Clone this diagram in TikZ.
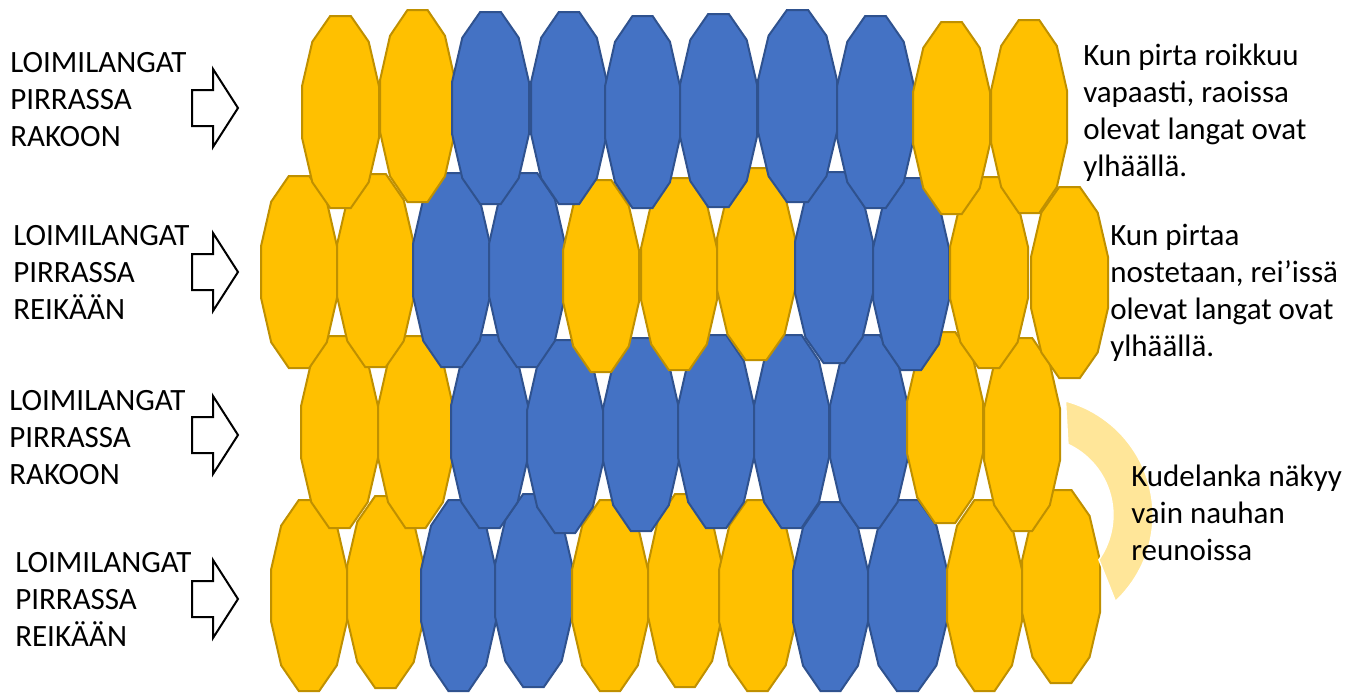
\documentclass[tikz,border=0pt]{standalone}
\usepackage{fontspec}
\setmainfont{Carlito}
\definecolor{yfill}{HTML}{FFC000}
\definecolor{ydraw}{HTML}{BF9000}
\definecolor{bfill}{HTML}{4472C4}
\definecolor{bdraw}{HTML}{2F528F}
\definecolor{bandc}{HTML}{FFE699}
\newcommand\dodeca[5]{%
\draw[#1] ({#2+0.366*(#4-#2)},#3) -- ({#2+0.634*(#4-#2)},#3) -- ({#2+0.866*(#4-#2)},{#3+0.134*(#5-#3)}) -- (#4,{#3+0.366*(#5-#3)}) -- (#4,{#3+0.634*(#5-#3)}) -- ({#2+0.866*(#4-#2)},{#3+0.866*(#5-#3)}) -- ({#2+0.634*(#4-#2)},#5) -- ({#2+0.366*(#4-#2)},#5) -- ({#2+0.134*(#4-#2)},{#3+0.866*(#5-#3)}) -- (#2,{#3+0.634*(#5-#3)}) -- (#2,{#3+0.366*(#5-#3)}) -- ({#2+0.134*(#4-#2)},{#3+0.134*(#5-#3)}) -- cycle;}
\newcommand\blockarrow[1]{%
\draw[arrowline] (192,{#1-18}) -- (213,{#1-18}) -- (213,{#1-39}) -- (238,#1) -- (213,{#1+39}) -- (213,{#1+18}) -- (192,{#1+18}) -- cycle;}
\begin{document}
\begin{tikzpicture}[x=0.75pt,y=-0.75pt,
  yel/.style={fill=yfill,draw=ydraw,line width=1.5pt,line join=miter},
  blu/.style={fill=bfill,draw=bdraw,line width=1.5pt,line join=miter},
  arrowline/.style={draw=black,fill=white,line width=1.5pt,line join=miter},
  lbl/.style={anchor=north west,inner sep=0pt,align=left,font=\fontsize{23.25pt}{27.75pt}\selectfont}]
\useasboundingbox (0,0) rectangle (1345,693);
% row 4
\dodeca{yel}{271}{500}{347}{691}
\dodeca{yel}{347}{496}{424}{688}
\dodeca{blu}{421}{500}{496}{691}
\dodeca{blu}{495}{494}{572}{687}
\dodeca{yel}{572}{500}{648}{691}
\dodeca{yel}{648}{494}{722}{687}
\dodeca{yel}{719}{500}{796}{691}
\dodeca{blu}{793}{502}{868}{691}
\dodeca{blu}{868}{500}{947}{691}
\dodeca{yel}{947}{500}{1022}{691}
\dodeca{yel}{1022}{490}{1100}{683}
% row 3
\dodeca{yel}{301}{336}{378}{528}
\dodeca{yel}{378}{336}{453}{528}
\dodeca{blu}{451}{335}{528}{528}
\dodeca{blu}{527}{340}{603}{533}
\dodeca{blu}{603}{338}{679}{531}
\dodeca{blu}{678}{335}{754}{528}
\dodeca{blu}{754}{335}{829}{528}
\dodeca{blu}{830}{335}{908}{528}
\dodeca{yel}{907}{332}{983}{523}
\dodeca{yel}{984}{338}{1060}{531}
% row 2
\dodeca{yel}{261}{176}{337}{368}
\dodeca{yel}{337}{174}{414}{367}
\dodeca{blu}{413}{173}{490}{367}
\dodeca{blu}{489}{173}{565}{367}
\dodeca{yel}{563}{180}{639}{372}
\dodeca{yel}{641}{178}{717}{370}
\dodeca{yel}{717}{168}{795}{360}
\dodeca{blu}{795}{172}{873}{363}
\dodeca{blu}{873}{178}{949}{370}
\dodeca{yel}{950}{177}{1028}{368}
\dodeca{yel}{1031}{187}{1108}{378}
% row 1
\dodeca{yel}{302}{16}{379}{208}
\dodeca{yel}{380}{10}{455}{202}
\dodeca{blu}{452}{12}{529}{204}
\dodeca{blu}{531}{12}{607}{204}
\dodeca{blu}{605}{16}{680}{208}
\dodeca{blu}{680}{14}{757}{207}
\dodeca{blu}{758}{10}{837}{202}
\dodeca{blu}{837}{16}{914}{208}
\dodeca{yel}{913}{22}{990}{214}
\dodeca{yel}{991}{20}{1067}{213}
% band
\fill[bandc,draw=white,line width=1pt] plot[domain=-75:47,samples=50] ({1035+118*cos(\x)},{515+118*sin(\x)}) -- plot[domain=35:-65,samples=50] ({1035+78*cos(\x)},{515+78*sin(\x)}) -- cycle;
% arrows
\blockarrow{108}
\blockarrow{272}
\blockarrow{435}
\blockarrow{599}
% labels
\node[lbl] (l1) at (10,52) {LOIMILANGAT\\PIRRASSA\\RAKOON};
\node[lbl] (l2) at (13,225) {LOIMILANGAT\\PIRRASSA\\REIKÄÄN};
\node[lbl] (l3) at (9,390) {LOIMILANGAT\\PIRRASSA\\RAKOON};
\node[lbl] (l4) at (15,552) {LOIMILANGAT\\PIRRASSA\\REIKÄÄN};
\node[lbl] (r1) at (1083,44) {Kun pirta roikkuu\\vapaasti, raoissa\\olevat langat ovat\\ylhäällä.};
\node[lbl] (r2) at (1110,224) {Kun pirtaa\\nostetaan, rei’issä\\olevat langat ovat\\ylhäällä.};
\node[lbl] (r3) at (1131,465) {Kudelanka näkyy\\vain nauhan\\reunoissa};
\end{tikzpicture}
\end{document}
